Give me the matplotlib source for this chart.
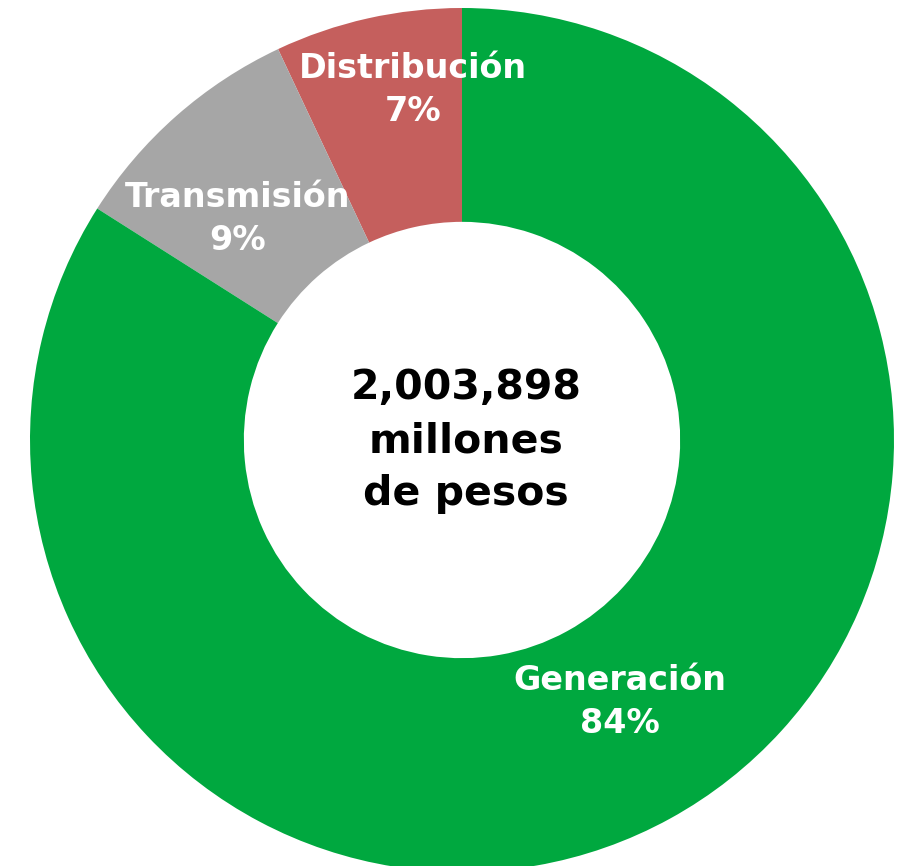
import matplotlib
matplotlib.use("Agg")
import matplotlib.pyplot as plt

# Datos
segmentos = ["Distribución", "Transmisión", "Generación"]
porcentajes = [7, 9, 84]
colores = ["#C55F5D", "#A6A6A6", "#00A83F"]
total_texto = "2,003,898\nmillones\nde pesos"

# posiciones de etiquetas (en unidades del radio)
pos_etiquetas = [(-0.113, 0.81), (-0.519, 0.512), (0.366, -0.606)]

plt.rcParams['font.family'] = ['DejaVu Sans']

fig = plt.figure(figsize=(9.1, 8.66), dpi=100)
ax = fig.add_axes([30 / 910, -6 / 866, 864 / 910, 864 / 866])

ax.pie(porcentajes, colors=colores, startangle=90, counterclock=True,
       radius=1.0, wedgeprops=dict(width=0.495, linewidth=0))

for nombre, pct, (x, y) in zip(segmentos, porcentajes, pos_etiquetas):
    ax.text(x, y, f"{nombre}\n{pct}%", ha='center', va='center', color='white',
            fontsize=24, fontweight='bold', linespacing=1.4)

ax.text(0.01, -0.003, total_texto, ha='center', va='center', color='black',
        fontsize=29.5, fontweight='bold', linespacing=1.42)

ax.set_xlim(-1, 1)
ax.set_ylim(-1, 1)
ax.set_aspect('equal')
ax.axis('off')

plt.savefig("out.png", dpi=100)
plt.close()
